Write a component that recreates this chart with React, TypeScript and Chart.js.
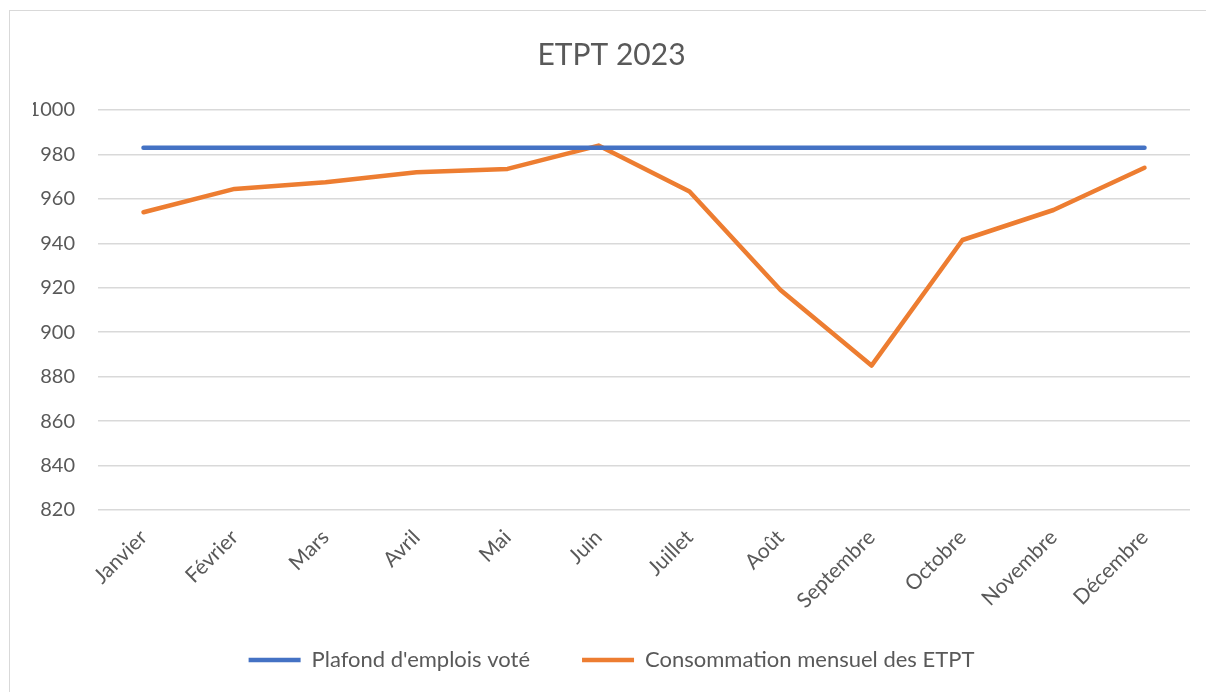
import React, { useEffect, useRef } from "react";
import { Chart, registerables } from "chart.js";

Chart.register(...registerables);

const months = ["Janvier", "Février", "Mars", "Avril", "Mai", "Juin", "Juillet", "Août", "Septembre", "Octobre", "Novembre", "Décembre"];
const plafond = [983, 983, 983, 983, 983, 983, 983, 983, 983, 983, 983, 983];
const consommation = [954, 964.5, 967.5, 972, 973.5, 984, 963.3, 919, 885, 941.5, 955, 974];
const yMin = 820;
const yMax = 1000;
const yStep = 20;

const FONT = "Lato, 'Open Sans', sans-serif";
const TXT = "#595959";
const LEGEND_PAD = 52;
const PAD_LEFT = 33;

export default function App() {
  const ref = useRef<HTMLCanvasElement | null>(null);
  useEffect(() => {
    if (!ref.current) return;
    const chart = new Chart(ref.current, {
      type: "line",
      data: {
        labels: months,
        datasets: [
          {
            label: "Plafond d'emplois voté",
            data: plafond,
            borderColor: "#4472C4",
            backgroundColor: "#4472C4",
            borderWidth: 4.5,
            pointRadius: 0,
            borderCapStyle: "round",
            tension: 0,
          },
          {
            label: "Consommation mensuel des ETPT",
            data: consommation,
            borderColor: "#ED7D31",
            backgroundColor: "#ED7D31",
            borderWidth: 4.5,
            pointRadius: 0,
            borderCapStyle: "round",
            borderJoinStyle: "round",
            tension: 0,
          },
        ],
      },
      options: {
        responsive: false,
        animation: false,
        layout: { padding: { left: PAD_LEFT, right: 16, top: 29, bottom: 11 } },
        plugins: {
          title: {
            display: true,
            text: "ETPT 2023",
            color: TXT,
            font: { family: FONT, size: 30, weight: "normal" },
            padding: { top: 8, bottom: 37 },
          },
          legend: {
            position: "bottom",
            labels: {
              color: TXT,
              font: { family: FONT, size: 22 },
              usePointStyle: true,
              pointStyle: "line",
              pointStyleWidth: 52,
              padding: LEGEND_PAD,
            },
          },
          tooltip: { enabled: false },
        },
        scales: {
          x: {
            offset: true,
            grid: { display: false, drawTicks: false },
            border: { display: false },
            ticks: {
              color: TXT,
              font: { family: FONT, size: 21 },
              minRotation: 45,
              maxRotation: 45,
              padding: 15,
            },
            afterFit: (s: any) => {
              s.height = 139 - LEGEND_PAD;
              s._computeLabelArea = () => undefined;
            },
          },
          y: {
            min: yMin,
            max: yMax,
            grid: { color: "#D9D9D9", lineWidth: 1.5, drawTicks: false },
            border: { display: false },
            ticks: {
              stepSize: yStep,
              color: TXT,
              font: { family: FONT, size: 20 },
              padding: 23,
              callback: (v: any) => String(v),
            },
            afterFit: (s: any) => {
              s.width = 98 - PAD_LEFT;
            },
          },
        },
      },
    });
    return () => chart.destroy();
  }, []);
  return (
    <div style={{ position: "fixed", left: 0, top: 0, width: 1206, height: 692, background: "#fff", overflow: "hidden" }}>
      <div style={{ position: "absolute", left: 9, top: 10, width: 1210, height: 700, border: "1.5px solid #D9D9D9", boxSizing: "border-box" }} />
      <canvas ref={ref} width={1206} height={692} style={{ position: "absolute", left: 0, top: 0, display: "block" }} />
    </div>
  );
}
